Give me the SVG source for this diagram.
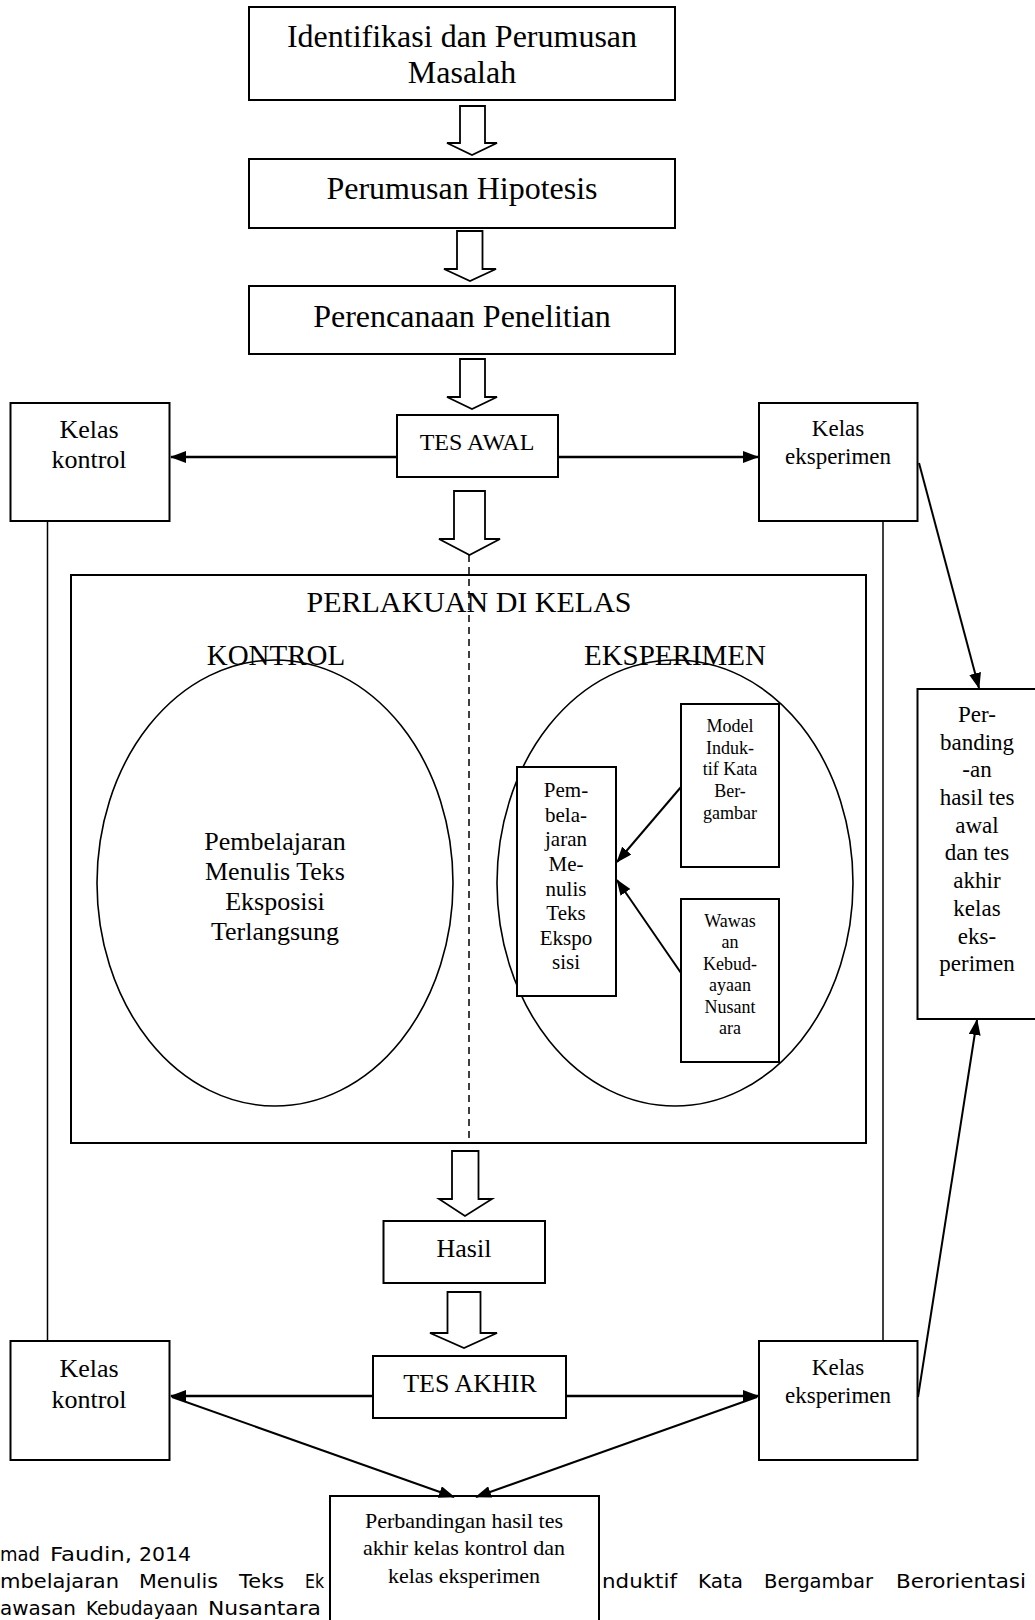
<svg xmlns="http://www.w3.org/2000/svg" width="1035" height="1620" viewBox="0 0 1035 1620">
<defs>
<style>
.box{fill:#fff;stroke:#000;stroke-width:2}
.ell{fill:none;stroke:#000;stroke-width:1.6}
.blk{fill:#fff;stroke:#000;stroke-width:1.8;stroke-linejoin:miter}
.ln{fill:none;stroke:#000;stroke-width:1.5}
.arr{fill:none;stroke:#000;stroke-width:2.6}
.arr2{fill:none;stroke:#000;stroke-width:2}
.t{font-family:"Liberation Serif","Times New Roman",serif;fill:#000;text-anchor:middle}
.f{font-family:"DejaVu Sans",sans-serif;fill:#000;font-size:20px}
</style>
<marker id="ah" viewBox="0 0 16 12" refX="15" refY="6" markerWidth="16" markerHeight="12" markerUnits="userSpaceOnUse" orient="auto">
<path d="M0,0 L16,6 L0,12 z" fill="#000"/>
</marker>
</defs>
<rect width="1035" height="1620" fill="#fff"/>

<g id="footer" class="f">
<text x="0" y="1561" textLength="40" lengthAdjust="spacingAndGlyphs">mad</text>
<text x="50" y="1561" textLength="82" lengthAdjust="spacingAndGlyphs">Faudin,</text>
<text x="139" y="1561" textLength="52" lengthAdjust="spacingAndGlyphs">2014</text>
<text x="0" y="1588" textLength="119" lengthAdjust="spacingAndGlyphs">mbelajaran</text>
<text x="139" y="1588" textLength="79" lengthAdjust="spacingAndGlyphs">Menulis</text>
<text x="239" y="1588" textLength="45" lengthAdjust="spacingAndGlyphs">Teks</text>
<text x="305" y="1588" textLength="19" lengthAdjust="spacingAndGlyphs">Ek</text>
<text x="602" y="1588" textLength="75" lengthAdjust="spacingAndGlyphs">nduktif</text>
<text x="698" y="1588" textLength="45" lengthAdjust="spacingAndGlyphs">Kata</text>
<text x="764" y="1588" textLength="109" lengthAdjust="spacingAndGlyphs">Bergambar</text>
<text x="896" y="1588" textLength="130" lengthAdjust="spacingAndGlyphs">Berorientasi</text>
<text x="0" y="1615" textLength="76" lengthAdjust="spacingAndGlyphs">awasan</text>
<text x="86" y="1615" textLength="112" lengthAdjust="spacingAndGlyphs">Kebudayaan</text>
<text x="208" y="1615" textLength="113" lengthAdjust="spacingAndGlyphs">Nusantara</text>
</g>

<g id="perlakuan">
<rect class="box" x="71" y="575" width="795" height="568"/>
<text class="t" x="469" y="612" font-size="30">PERLAKUAN DI KELAS</text>
</g>

<g id="kontrol-group">
<text class="t" x="276" y="665" font-size="29">KONTROL</text>
<ellipse class="ell" cx="275" cy="883" rx="178" ry="223"/>
<text class="t" x="275" y="850" font-size="26">Pembelajaran</text>
<text class="t" x="275" y="880" font-size="26">Menulis Teks</text>
<text class="t" x="275" y="910" font-size="26">Eksposisi</text>
<text class="t" x="275" y="940" font-size="26">Terlangsung</text>
</g>

<g id="eksperimen-group">
<text class="t" x="675" y="665" font-size="29">EKSPERIMEN</text>
<ellipse class="ell" cx="675" cy="883" rx="178" ry="223"/>
</g>

<g id="pembelajaran">
<rect class="box" x="517" y="767" width="99" height="229"/>
<g class="t" font-size="21">
<text x="566" y="797">Pem-</text>
<text x="566" y="822">bela-</text>
<text x="566" y="846">jaran</text>
<text x="566" y="871">Me-</text>
<text x="566" y="896">nulis</text>
<text x="566" y="920">Teks</text>
<text x="566" y="945">Ekspo</text>
<text x="566" y="969">sisi</text>
</g>
</g>

<g id="model">
<rect class="box" x="681" y="704" width="98" height="163"/>
<g class="t" font-size="18">
<text x="730" y="732">Model</text>
<text x="730" y="754">Induk-</text>
<text x="730" y="775">tif Kata</text>
<text x="730" y="797">Ber-</text>
<text x="730" y="819">gambar</text>
</g>
</g>

<g id="wawasan">
<rect class="box" x="681" y="899" width="98" height="163"/>
<g class="t" font-size="18">
<text x="730" y="927">Wawas</text>
<text x="730" y="948">an</text>
<text x="730" y="970">Kebud-</text>
<text x="730" y="991">ayaan</text>
<text x="730" y="1013">Nusant</text>
<text x="730" y="1034">ara</text>
</g>
</g>

<g id="identifikasi">
<rect class="box" x="249" y="7" width="426" height="93"/>
<text class="t" x="462" y="47" font-size="32">Identifikasi dan Perumusan</text>
<text class="t" x="462" y="83" font-size="32">Masalah</text>
</g>

<g id="hipotesis">
<rect class="box" x="249" y="159" width="426" height="69"/>
<text class="t" x="462" y="199" font-size="32">Perumusan Hipotesis</text>
</g>

<g id="perencanaan">
<rect class="box" x="249" y="286" width="426" height="68"/>
<text class="t" x="462" y="327" font-size="32">Perencanaan Penelitian</text>
</g>

<g id="kelas-kontrol-awal">
<rect class="box" x="10.5" y="403" width="159" height="118"/>
<text class="t" x="89" y="438" font-size="26">Kelas</text>
<text class="t" x="89" y="468" font-size="26">kontrol</text>
</g>

<g id="tes-awal">
<rect class="box" x="397" y="415" width="161" height="62"/>
<text class="t" x="477" y="450" font-size="24">TES AWAL</text>
</g>

<g id="kelas-eksperimen-awal">
<rect class="box" x="759" y="403" width="158.5" height="118"/>
<text class="t" x="838" y="436" font-size="23">Kelas</text>
<text class="t" x="838" y="464" font-size="23">eksperimen</text>
</g>

<g id="perbandingan-eksperimen">
<rect class="box" x="917.5" y="689" width="125" height="330"/>
<g class="t" font-size="23">
<text x="977" y="722">Per-</text>
<text x="977" y="750">banding</text>
<text x="977" y="777">-an</text>
<text x="977" y="805">hasil tes</text>
<text x="977" y="833">awal</text>
<text x="977" y="860">dan tes</text>
<text x="977" y="888">akhir</text>
<text x="977" y="916">kelas</text>
<text x="977" y="944">eks-</text>
<text x="977" y="971">perimen</text>
</g>
</g>

<g id="hasil">
<rect class="box" x="383.5" y="1221" width="161.5" height="62"/>
<text class="t" x="464" y="1257" font-size="26">Hasil</text>
</g>

<g id="kelas-kontrol-akhir">
<rect class="box" x="10.5" y="1341" width="159" height="119"/>
<text class="t" x="89" y="1377" font-size="26">Kelas</text>
<text class="t" x="89" y="1408" font-size="26">kontrol</text>
</g>

<g id="tes-akhir">
<rect class="box" x="373" y="1356" width="193" height="62"/>
<text class="t" x="470" y="1392" font-size="26">TES AKHIR</text>
</g>

<g id="kelas-eksperimen-akhir">
<rect class="box" x="759" y="1341" width="158.5" height="119"/>
<text class="t" x="838" y="1375" font-size="23">Kelas</text>
<text class="t" x="838" y="1403" font-size="23">eksperimen</text>
</g>

<g id="perbandingan-akhir">
<rect class="box" x="330" y="1496" width="269" height="135"/>
<text class="t" x="464" y="1528" font-size="22">Perbandingan hasil tes</text>
<text class="t" x="464" y="1555" font-size="22">akhir kelas kontrol dan</text>
<text class="t" x="464" y="1583" font-size="22">kelas eksperimen</text>
</g>

<g id="connectors">
<polygon class="blk" points="460,106 485,106 485,143 497,143 472,155 447,143 460,143"/>
<polygon class="blk" points="457,231 482.5,231 482.5,269 496,269 470,281 444,269 457,269"/>
<polygon class="blk" points="460,359 485,359 485,397 497,397 472,409 447,397 460,397"/>
<polygon class="blk" points="454,491 485,491 485,539 500,539 469.5,555 439,539 454,539"/>
<polygon class="blk" points="452,1151 478.5,1151 478.5,1199 492,1199 465,1216 439,1199 452,1199"/>
<polygon class="blk" points="447.5,1292 480.5,1292 480.5,1333 497,1333 464,1348 430,1333 447.5,1333"/>
<line class="ln" x1="469" y1="555" x2="469" y2="1143" stroke-dasharray="7,5"/>
<line class="arr" x1="397" y1="457" x2="171" y2="457" marker-end="url(#ah)"/>
<line class="arr" x1="558" y1="457" x2="758" y2="457" marker-end="url(#ah)"/>
<line class="ln" x1="47.5" y1="521" x2="47.5" y2="1341"/>
<line class="ln" x1="883" y1="521" x2="883" y2="1341"/>
<line class="arr2" x1="919" y1="463" x2="979" y2="688" marker-end="url(#ah)"/>
<line class="arr2" x1="918" y1="1397" x2="977" y2="1020" marker-end="url(#ah)"/>
<line class="arr2" x1="681" y1="787" x2="617" y2="862" marker-end="url(#ah)"/>
<line class="arr2" x1="681" y1="973" x2="617" y2="880" marker-end="url(#ah)"/>
<line class="arr" x1="373" y1="1396" x2="171" y2="1396" marker-end="url(#ah)"/>
<line class="arr" x1="566" y1="1396" x2="758" y2="1396" marker-end="url(#ah)"/>
<line class="arr2" x1="172" y1="1397" x2="454" y2="1497" marker-end="url(#ah)"/>
<line class="arr2" x1="757" y1="1397" x2="476" y2="1497" marker-end="url(#ah)"/>
</g>
</svg>
